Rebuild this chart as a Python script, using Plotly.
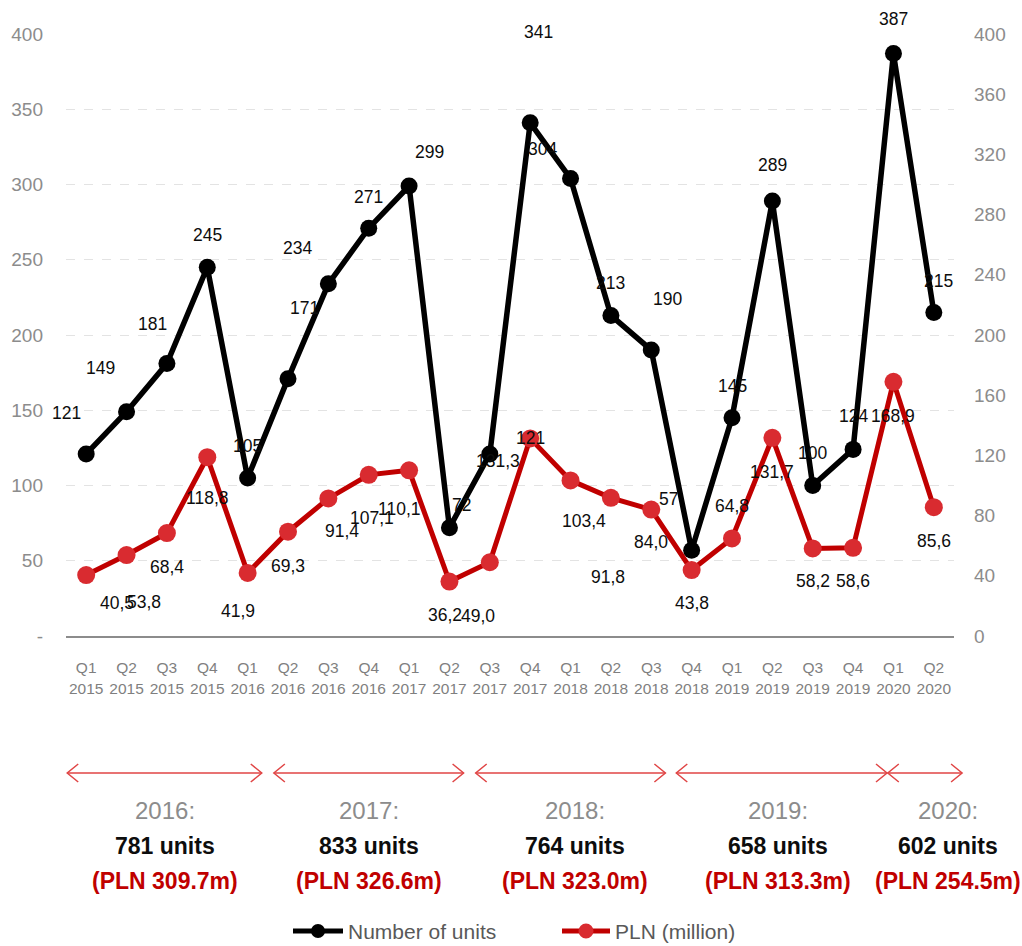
import plotly.graph_objects as go

# ---- data -------------------------------------------------------------
quarters = ["Q1 2015", "Q2 2015", "Q3 2015", "Q4 2015",
            "Q1 2016", "Q2 2016", "Q3 2016", "Q4 2016",
            "Q1 2017", "Q2 2017", "Q3 2017", "Q4 2017",
            "Q1 2018", "Q2 2018", "Q3 2018", "Q4 2018",
            "Q1 2019", "Q2 2019", "Q3 2019", "Q4 2019",
            "Q1 2020", "Q2 2020"]
units = [121, 149, 181, 245, 105, 171, 234, 271, 299, 72, 121,
         341, 304, 213, 190, 57, 145, 289, 100, 124, 387, 215]
pln_million = [40.5, 53.8, 68.4, 118.8, 41.9, 69.3, 91.4, 107.1, 110.1, 36.2, 49.0,
               131.3, 103.4, 91.8, 84.0, 43.8, 64.8, 131.7, 58.2, 58.6, 168.9, 85.6]
summary_years = ["2016", "2017", "2018", "2019", "2020"]

# ---- label placement (pixel offsets from each point: dx right, dy down) -----
units_label_offsets = [(-20, -41), (-26, -44), (-14, -40), (0, -32), (0, -32),
                       (16, -71), (-31, -36), (0, -31), (20, -34), (12, -23),
                       (41, -16), (8, -91), (-28, -29), (0, -32), (16, -51),
                       (-23, -51), (0, -32), (0, -36), (0, -33), (0, -33),
                       (0, -35), (5, -31)]
pln_label_offsets = [(31, 28), (17, 47), (0, 34), (0, 41), (-10, 38),
                     (0, 34), (14, 33), (3, 43), (-10, 39), (-4, 33),
                     (-12, 54), (-32, 23), (13, 41), (-3, 79), (0, 32),
                     (0, 33), (0, -32), (0, 34), (0, 33), (0, 33),
                     (0, 34), (0, 34)]

# bracket spans (category index units) and text centres for the yearly summary
bracket_spans = [(-0.47, 4.35), (4.65, 9.35), (9.65, 14.35), (14.62, 19.84), (19.86, 21.7)]
summary_centres = [1.96, 7.01, 12.12, 17.15, 21.36]

# ---- geometry / styles -----------------------------------------------------
W, H = 1022, 946
ML, MR, MT, MB = 66, 68, 34, 310
PW, PH = W - ML - MR, H - MT - MB
FONT = "Liberation Sans, Arial, sans-serif"
BLACK = "#000000"
RED_LINE = "#C00000"
RED_MARK = "#D92B30"
DARK_RED = "#C00000"
N = len(quarters)


def px_to_paper_y(py):
    return (H - MB - py) / PH


def px_to_paper_x(px):
    return (px - ML) / PW


def cat_to_paper_x(c):
    return (c + 0.5) / N


xcats = [q.replace(" ", "<br>") for q in quarters]

fig = go.Figure()
fig.add_trace(go.Scatter(
    x=xcats, y=units, name="Number of units", mode="lines+markers",
    line=dict(color=BLACK, width=5.5), marker=dict(color=BLACK, size=17),
    yaxis="y", showlegend=False, hoverinfo="x+y"))
fig.add_trace(go.Scatter(
    x=xcats, y=pln_million, name="PLN (million)", mode="lines+markers",
    line=dict(color=RED_LINE, width=5), marker=dict(color=RED_MARK, size=18),
    yaxis="y2", showlegend=False, hoverinfo="x+y"))

annotations = []
label_font = dict(family=FONT, size=17.5, color="#0d0d0d")
for xc, v, (dx, dy) in zip(xcats, units, units_label_offsets):
    annotations.append(dict(x=xc, y=v, xref="x", yref="y", text=f"{v}",
                            showarrow=False, xshift=dx, yshift=-dy,
                            xanchor="center", yanchor="middle", font=label_font))
for xc, v, (dx, dy) in zip(xcats, pln_million, pln_label_offsets):
    annotations.append(dict(x=xc, y=v, xref="x", yref="y2",
                            text=f"{v:.1f}".replace(".", ","),
                            showarrow=False, xshift=dx, yshift=-dy,
                            xanchor="center", yanchor="middle", font=label_font))

# yearly totals computed from the quarterly series
shapes = []
arrow_y = px_to_paper_y(773)
head_len = 11 / PW
head_half = 9 / PH
line_style = dict(color="#E04545", width=1.5)
for yr, (a, b), cx in zip(summary_years, bracket_spans, summary_centres):
    idx = [i for i, q in enumerate(quarters) if q.endswith(yr)]
    tot_units = sum(units[i] for i in idx)
    tot_pln = sum(pln_million[i] for i in idx)
    pa, pb = cat_to_paper_x(a), cat_to_paper_x(b)
    shapes.append(dict(type="line", xref="paper", yref="paper", x0=pa, x1=pb,
                       y0=arrow_y, y1=arrow_y, line=line_style))
    for tip, sgn in ((pa, 1), (pb, -1)):
        shapes.append(dict(type="path", xref="paper", yref="paper",
                           path=(f"M {tip + sgn * head_len},{arrow_y + head_half} "
                                 f"L {tip},{arrow_y} "
                                 f"L {tip + sgn * head_len},{arrow_y - head_half}"),
                           line=line_style))
    px_c = cat_to_paper_x(cx)
    annotations.append(dict(x=px_c, y=px_to_paper_y(810), xref="paper", yref="paper",
                            text=f"{yr}:", showarrow=False,
                            xanchor="center", yanchor="middle",
                            font=dict(family=FONT, size=24, color="#8C8C8C")))
    annotations.append(dict(x=px_c, y=px_to_paper_y(846), xref="paper", yref="paper",
                            text=f"<b>{tot_units} units</b>", showarrow=False,
                            xanchor="center", yanchor="middle",
                            font=dict(family=FONT, size=23, color="#0d0d0d")))
    annotations.append(dict(x=px_c, y=px_to_paper_y(881), xref="paper", yref="paper",
                            text=f"<b>(PLN {tot_pln:.1f}m)</b>", showarrow=False,
                            xanchor="center", yanchor="middle",
                            font=dict(family=FONT, size=23, color=DARK_RED)))

# legend drawn underneath the summary
legend_y = px_to_paper_y(931)
legend_items = [("Number of units", BLACK, BLACK, 293, 343, 14, 5),
                ("PLN (million)", RED_LINE, RED_MARK, 562, 610, 15, 5)]
for name, lc, mc, x0, x1, msz, lw in legend_items:
    shapes.append(dict(type="line", xref="paper", yref="paper",
                       x0=px_to_paper_x(x0), x1=px_to_paper_x(x1),
                       y0=legend_y, y1=legend_y, line=dict(color=lc, width=lw)))
    shapes.append(dict(type="circle", xref="paper", yref="paper",
                       xsizemode="pixel", ysizemode="pixel",
                       xanchor=px_to_paper_x((x0 + x1) / 2), yanchor=legend_y,
                       x0=-msz / 2, x1=msz / 2, y0=-msz / 2, y1=msz / 2,
                       fillcolor=mc, line=dict(width=0)))
    annotations.append(dict(x=px_to_paper_x(x1 + 3), y=legend_y, xref="paper",
                            yref="paper", xanchor="left", yanchor="middle",
                            text=name, showarrow=False,
                            font=dict(family=FONT, size=21, color="#595959")))

left_ticks = list(range(0, 401, 50))
left_text = ["-" if v == 0 else str(v) for v in left_ticks]

fig.update_layout(
    width=W, height=H,
    margin=dict(l=ML, r=MR, t=MT, b=MB, pad=0),
    paper_bgcolor="white", plot_bgcolor="white",
    showlegend=False,
    xaxis=dict(type="category", range=[-0.5, N - 0.5],
               showgrid=False, showline=True, linecolor="#8C8C8C", linewidth=1.5,
               ticks="", ticklabelstandoff=17,
               tickfont=dict(family=FONT, size=15.5, color="#7F7F7F")),
    yaxis=dict(range=[0, 400], tickvals=left_ticks, ticktext=left_text,
               showgrid=True, gridcolor="#E3E3E3", griddash="dash", gridwidth=1,
               zeroline=False, showline=False, ticks="", ticklabelstandoff=22,
               tickfont=dict(family=FONT, size=19, color="#8C8C8C")),
    yaxis2=dict(range=[0, 400], dtick=40, overlaying="y", side="right",
                showgrid=False, zeroline=False, showline=False, ticks="",
                ticklabelstandoff=19,
                tickfont=dict(family=FONT, size=19, color="#8C8C8C")),
    annotations=annotations,
    shapes=shapes,
)

fig.write_html("out.html")
